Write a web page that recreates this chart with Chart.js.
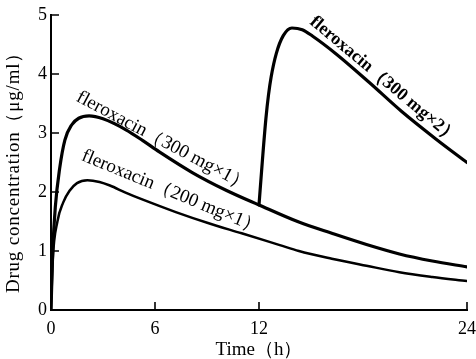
<!DOCTYPE html>
<html>
<head>
<meta charset="utf-8">
<script src="https://cdn.jsdelivr.net/npm/chart.js@4"></script>
<style>
  html, body { margin: 0; padding: 0; background: #fff; }
  #wrap { width: 476px; height: 359px; }
</style>
</head>
<body>
<div id="wrap"><canvas id="grafico"></canvas></div>
<script>
// valores (tempo em h, concentracao em ug/ml)
const tempo300x1 = [0, 0.1, 0.25, 0.5, 0.8, 1.2, 1.6, 2.2, 3, 4.35, 5.3, 6.25, 8.15, 10.1, 12, 14.3, 16.2, 18.2, 20.1, 22, 24];
const conc300x1 = [0, 1.0, 1.75, 2.4, 2.88, 3.14, 3.25, 3.29, 3.24, 3.05, 2.87, 2.68, 2.33, 2.03, 1.78, 1.49, 1.30, 1.11, 0.95, 0.83, 0.73];

const tempo200x1 = [0, 0.1, 0.37, 0.7, 1.07, 1.5, 2.1, 2.8, 3.4, 4.3, 5.3, 7.2, 9.1, 11, 13.2, 14.3, 16.2, 18.2, 20.1, 22, 24];
const conc200x1 = [0, 0.85, 1.5, 1.82, 2.02, 2.15, 2.2, 2.17, 2.11, 1.99, 1.87, 1.66, 1.47, 1.30, 1.10, 1.0, 0.87, 0.75, 0.64, 0.56, 0.49];

const tempo300x2 = [12, 12.2, 12.4, 12.55, 12.7, 13.0, 13.4, 13.9, 14.5, 15.1, 16.45, 18.35, 20.25, 22.2, 24];
const conc300x2 = [1.78, 2.55, 3.25, 3.65, 3.95, 4.35, 4.65, 4.78, 4.75, 4.64, 4.34, 3.86, 3.36, 2.9, 2.5];

const ticksX = [0, 6, 12, 24];
const ticksY = [0, 1, 2, 3, 4, 5];

const rotulos = ["fleroxacin（300 mg×1）", "fleroxacin（200 mg×1）", "fleroxacin（300 mg×2）"];
const tituloX = "Time（h）";
const tituloY = "Drug concentration（μg/ml）";

const serif = "'Liberation Serif', 'DejaVu Serif', serif";

function pontos(xs, ys) {
  return xs.map((x, i) => ({ x: x, y: ys[i] }));
}

// desenha os tracinhos para dentro, os rotulos das curvas e os titulos
const extras = {
  id: "extras",
  afterDraw(chart, args, opts) {
    const { ctx, scales: { x, y } } = chart;
    ctx.save();
    ctx.strokeStyle = "#000";
    ctx.lineWidth = 1.6;
    ctx.beginPath();
    ticksX.forEach(v => {
      if (v === 0) return;
      const px = x.getPixelForValue(v);
      ctx.moveTo(px, y.bottom);
      ctx.lineTo(px, y.bottom - 8);
    });
    ticksY.forEach(v => {
      if (v === 0) return;
      const py = y.getPixelForValue(v);
      ctx.moveTo(x.left, py);
      ctx.lineTo(x.left + 8, py);
    });
    ctx.stroke();

    ctx.fillStyle = "#000";
    ctx.textAlign = "center";
    ctx.textBaseline = "middle";
    opts.rotulos.forEach((r, i) => {
      ctx.save();
      ctx.translate(x.getPixelForValue(r.t), y.getPixelForValue(r.c));
      ctx.rotate(r.ang * Math.PI / 180);
      ctx.font = (r.bold ? "bold 18px " : "19px ") + serif;
      ctx.fillText(rotulos[i], 0, 0);
      ctx.restore();
    });

    ctx.font = "19px " + serif;
    ctx.fillText(tituloX, (x.left + x.right) / 2, 350);

    ctx.save();
    ctx.translate(14, 168);
    ctx.rotate(-Math.PI / 2);
    ctx.letterSpacing = "0.8px";
    ctx.fillText(tituloY, 0, 0);
    ctx.restore();
    ctx.restore();
  }
};

const grafico = new Chart(document.getElementById("grafico"), {
  type: "line",
  data: {
    datasets: [
      { data: pontos(tempo300x1, conc300x1), borderColor: "#000", borderWidth: 3.2 },
      { data: pontos(tempo200x1, conc200x1), borderColor: "#000", borderWidth: 2.5 },
      { data: pontos(tempo300x2, conc300x2), borderColor: "#000", borderWidth: 3.2 },
    ],
  },
  options: {
    responsive: true,
    maintainAspectRatio: false,
    animation: false,
    layout: { padding: { top: 15, right: 0, left: 0, bottom: 0 } },
    elements: {
      point: { radius: 0 },
      line: { cubicInterpolationMode: "monotone", borderCapStyle: "round", fill: false },
    },
    plugins: {
      legend: { display: false },
      tooltip: { enabled: false },
      extras: {
        rotulos: [
          { t: 6.45, c: 2.86, ang: 28 },
          { t: 6.95, c: 2.0, ang: 22.5 },
          { t: 19.2, c: 3.9, ang: 40, bold: true },
        ],
      },
    },
    scales: {
      x: {
        type: "linear",
        min: 0,
        max: 24,
        afterBuildTicks: s => { s.ticks = ticksX.map(v => ({ value: v })); },
        afterFit: s => { s.height = 49; s.paddingLeft = 0; s.paddingRight = 9; },
        grid: { drawOnChartArea: false, drawTicks: false },
        border: { color: "#000", width: 2 },
        ticks: { color: "#000", padding: 8, font: { family: serif, size: 18 } },
      },
      y: {
        min: 0,
        max: 5,
        afterBuildTicks: s => { s.ticks = ticksY.map(v => ({ value: v })); },
        afterFit: s => { s.width = 51; },
        grid: { drawOnChartArea: false, drawTicks: false },
        border: { color: "#000", width: 2 },
        ticks: { color: "#000", padding: 4, font: { family: serif, size: 18 } },
      },
    },
  },
  plugins: [extras],
});
</script>
</body>
</html>
